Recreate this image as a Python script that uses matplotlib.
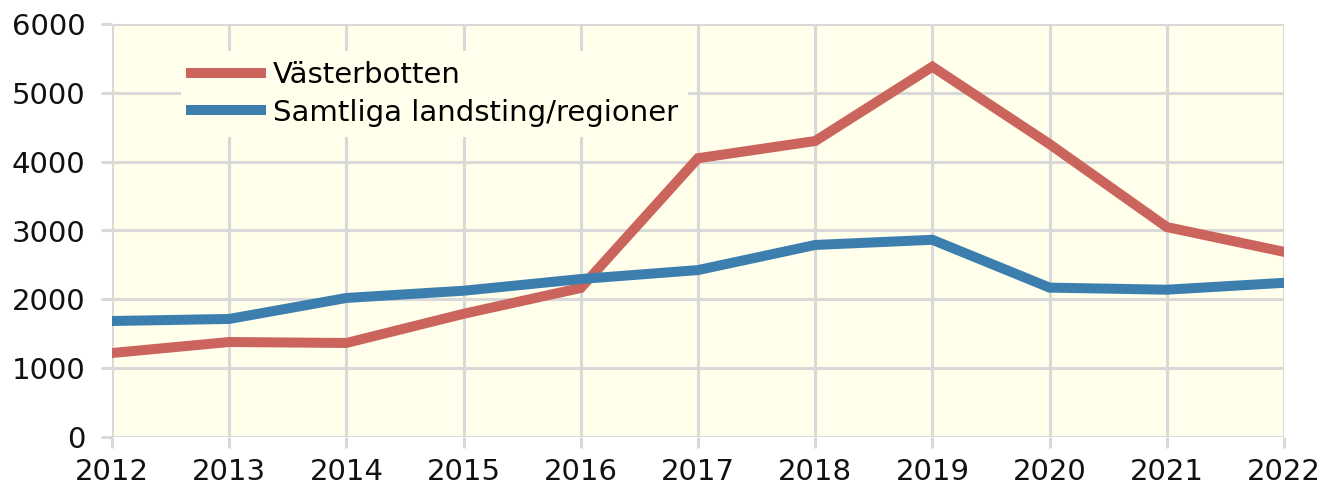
import matplotlib.pyplot as plt
import numpy as np

years = [2012, 2013, 2014, 2015, 2016, 2017, 2018, 2019, 2020, 2021, 2022]
vasterbotten = [1220, 1380, 1366, 1790, 2165, 4050, 4300, 5380, 4255, 3050, 2690]
samtliga = [1685, 1715, 2020, 2125, 2295, 2425, 2790, 2865, 2170, 2140, 2240]
yticks = [0, 1000, 2000, 3000, 4000, 5000, 6000]

RED = '#CC645E'
BLUE = '#3C7FAF'
BG = '#FFFFEB'
GRID = '#D9D9D9'

plt.rcParams['font.family'] = ['DejaVu Sans']

fig = plt.figure(figsize=(13.34, 4.94), dpi=100)
ax = fig.add_axes([112 / 1334, 1 - 437 / 494, (1284 - 112) / 1334, (437 - 24) / 494])
ax.set_facecolor(BG)

ax.plot(years, vasterbotten, color=RED, lw=7.2, label='Västerbotten',
        solid_joinstyle='miter', zorder=3)
ax.plot(years, samtliga, color=BLUE, lw=7.2, label='Samtliga landsting/regioner',
        solid_joinstyle='miter', zorder=3)

ax.set_xlim(years[0], years[-1])
ax.set_ylim(0, 6000)
ax.set_xticks(years)
ax.set_yticks(yticks)
ax.grid(True, color=GRID, lw=2.2, zorder=0)
ax.set_axisbelow(True)
for s in ['top', 'right', 'bottom', 'left']:
    ax.spines[s].set_visible(False)
ax.tick_params(axis='both', colors=GRID, width=2.2, length=8, labelsize=21,
               labelcolor='#111111')
ax.tick_params(axis='y', pad=11)
ax.tick_params(axis='x', pad=7)

leg = ax.legend(loc='upper left', bbox_to_anchor=(0.059, 0.935), frameon=True,
                facecolor=BG, edgecolor='none', framealpha=1, fancybox=False,
                fontsize=21, handlelength=2.4, handletextpad=0.4,
                labelspacing=0.33, borderpad=0.35, borderaxespad=0)
leg.set_zorder(5)

fig.savefig('out.png', dpi=100)
